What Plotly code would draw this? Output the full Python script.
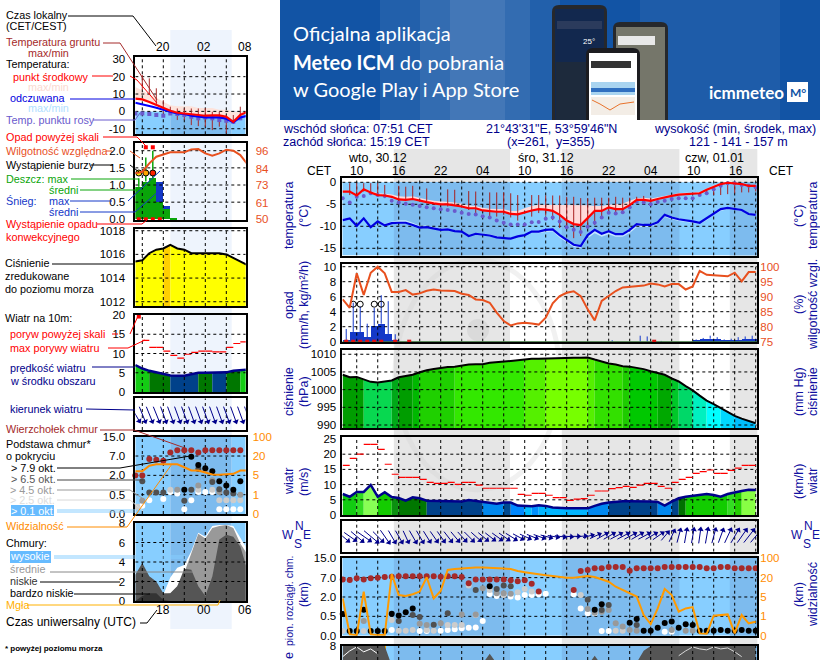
import numpy as np
import plotly.graph_objects as go

W, H = 820, 660
PX_PER_HOUR = 7

# main meteogram, hourly from 08 CET on 30.12
hours = list(range(8, 68))
temp_mid = [-2.1, -2.1, -3.0, -1.6, -2.3, -2.9, -3.0, -3.3, -3.9, -4.0,
            -3.8, -4.2, -4.5, -4.8, -5.0, -5.0, -5.2, -5.5, -5.9, -5.9,
            -6.4, -6.6, -6.7, -6.7, -7.2, -7.3, -6.8, -6.4, -6.1, -6.2,
            -6.5, -7.4, -8.7, -9.5, -9.7, -8.2, -6.5, -6.5, -5.7, -6.1,
            -6.1, -5.2, -4.0, -4.0, -4.2, -3.8, -3.4, -3.1, -2.8, -2.7,
            -2.7, -2.5, -1.7, -1.0, -0.4, -0.1, -0.2, -0.4, -0.8, -0.8]
temp_max = [-1.9, -1.9, -2.7, -1.4, -2.0, -2.5, -2.6, -2.8, -3.2, -3.3,
            -3.2, -3.6, -3.9, -4.2, -4.3, -4.4, -4.6, -4.9, -5.3, -5.4,
            -5.8, -6.0, -6.1, -6.1, -6.5, -6.5, -5.9, -5.4, -5.1, -5.1,
            -5.1, -5.1, -5.1, -5.1, -5.1, -5.2, -5.4, -5.4, -5.1, -5.0,
            -4.9, -4.2, -3.6, -3.5, -3.7, -3.4, -3.1, -2.8, -2.5, -2.4,
            -2.4, -2.2, -1.4, -0.7, -0.2, 0.1, 0.0, -0.2, -0.6, -0.6]
feels = [-8.6, -8.2, -9.9, -8.2, -10.2, -8.9, -9.8, -9.3, -9.2, -9.2,
         -9.7, -10.3, -10.2, -10.5, -10.8, -10.7, -11.1, -11.2, -12.2, -11.7,
         -11.9, -12.1, -12.5, -12.7, -12.8, -12.3, -12.0, -11.2, -11.2, -10.8,
         -10.7, -12.0, -13.1, -14.2, -14.5, -12.0, -10.8, -11.7, -11.1, -11.8,
         -11.8, -10.8, -9.5, -9.7, -9.7, -9.1, -7.4, -8.0, -8.4, -8.6,
         -8.9, -9.2, -8.2, -7.0, -6.1, -5.8, -6.0, -6.3, -7.2, -7.4]
feels_max = [-8.3, -8.0, -9.6, -8.0, -9.9, -8.6, -9.5, -8.9, -8.6, -8.6,
             -9.2, -9.9, -9.8, -10.1, -10.5, -10.4, -10.9, -11.0, -11.9, -11.5,
             -11.7, -11.8, -12.2, -12.5, -12.6, -12.1, -11.8, -11.0, -11.0, -10.6,
             -10.5, -11.8, -12.9, -14.0, -14.3, -11.8, -10.6, -11.5, -10.9, -11.6,
             -11.6, -10.6, -9.3, -9.5, -9.5, -8.9, -7.2, -7.8, -8.2, -8.4,
             -8.7, -9.0, -8.0, -6.8, -5.9, -5.6, -5.8, -6.1, -7.0, -7.2]
feels_min = [-8.7, -8.3, -10.0, -8.3, -10.3, -9.0, -9.9, -9.4, -9.3, -9.3,
             -9.8, -10.4, -10.3, -10.6, -10.9, -10.8, -11.2, -11.3, -12.3, -11.8,
             -12.0, -12.2, -12.6, -12.8, -12.9, -12.4, -12.1, -11.4, -11.6, -11.3,
             -11.2, -12.6, -13.6, -14.7, -15.0, -12.7, -11.6, -12.4, -11.8, -12.4,
             -12.4, -11.5, -10.2, -10.2, -10.1, -9.5, -7.9, -8.4, -8.8, -9.0,
             -9.3, -9.5, -8.6, -7.4, -6.5, -6.1, -6.3, -6.6, -7.4, -7.6]
dew = [-3.6, -4.6, -3.3, -3.1, -2.5, -2.9, -3.1, -4.2, -4.6, -4.9,
       -5.1, -5.4, -5.7, -5.9, -6.1, -6.3, -6.5, -6.9, -7.2, -7.3,
       -7.7, -8.0, -8.7, -9.2, -9.6, -9.6, -9.6, -9.1, -9.0, -8.3,
       -8.0, -8.9, -10.2, -10.8, -11.3, -10.1, -9.2, -8.0, -6.9, -7.1,
       -6.8, -5.7, -4.4, -4.6, -5.0, -4.5, -4.2, -3.8, -3.6, -3.6,
       -3.6, -2.9, -2.5, -1.6, -0.8, -0.2, -0.2, -0.6, -0.8, -1.1]
ground_max = [None, -0.2, -0.2, -0.2, -0.2, -0.2, -0.6, None, -0.8, -1.0,
              -0.8, None, -1.4, None, None, -1.6, -1.7, None, -2.0, -2.1,
              None, -2.3, -2.3, -2.3, -2.5, -2.9, None, -2.9, -2.9, -3.0,
              -3.0, -3.0, -3.3, -3.3, -3.6, -3.6, -3.5, -3.5, -3.5, -3.3,
              -3.5, -3.5, -3.3, -3.1, -3.5, None, None, None, None, None,
              None, None, -1.7, -1.4, -0.5, 0.2, 0.0, -0.5, -0.6, -0.6]
ground_min = [None, -2.9, -3.6, -2.1, -2.9, -2.5, -3.6, None, -4.0, -4.0,
              -4.0, None, -4.8, None, None, -5.5, -5.4, None, -6.3, -7.0,
              None, -7.8, -7.8, -7.4, -8.0, -8.7, None, -7.8, -7.0, -7.6,
              -8.6, -10.4, -10.6, -12.7, -12.2, -10.6, -9.7, -8.3, -7.1, -6.8,
              -6.7, -6.1, -4.4, -4.8, -5.1, None, None, None, None, None,
              None, None, -2.9, -2.9, -2.9, -2.7, -2.5, -2.3, -2.3, -2.1]
humidity = [89.1, 86.3, 97.8, 90.6, 98.0, 100.0, 97.8, 91.6, 91.6, 92.2,
            90.7, 91.1, 92.0, 92.4, 92.1, 91.9, 91.9, 91.0, 90.6, 89.1,
            88.9, 88.0, 84.7, 81.9, 80.4, 81.1, 81.3, 81.1, 80.7, 83.0,
            87.8, 90.2, 91.3, 91.8, 90.2, 85.8, 82.1, 88.6, 90.4, 91.9,
            93.1, 93.3, 93.4, 93.7, 94.4, 94.1, 93.4, 94.2, 94.2, 92.4,
            93.4, 98.6, 97.3, 97.1, 96.9, 96.8, 98.0, 95.1, 98.2, 98.2]
snow_hours = [8.5, 9.5, 10.5, 11.5, 12.5, 13.5, 14.5, 15.5, 58.5, 59.5, 60.5, 61.5, 62.5, 63.5, 64.5, 65.5, 66.5, 67.5]
snow_mean = [0.1, 1.3, 1.3, 0.6, 2.1, 2.4, 1.0, 0.1, 0.2, 0.3, 0.4, 0.3, 0.1, 0.2, 0.2, 0.3, 0.3, 0.3]
snow_peak = [1.7, 5.2, 4.7, 2.4, 4.5, 6.2, 5.4, 1.0, 0.3, 0.5, 0.8, 0.6, 0.3, 0.4, 0.6, 0.7, 0.8, 0.8]
trace_hours = [46.5, 50.5, 51.5, 53.5]
trace_peak = [0.2, 0.8, 0.7, 0.1]
convective_hours = [8.5, 9.5, 10.5, 11.5, 12.5, 13.5, 15.5, 17.5, 52.5]
storm_hours = [9.5, 10.5, 12.5, 13.5]
storm_level = [5.0, 5.0, 5.0, 5.0]
pressure = [1004.2, 1003.5, 1003.6, 1002.9, 1002.2, 1002.0, 1002.3, 1002.6, 1003.5, 1003.9,
            1004.2, 1004.9, 1005.5, 1005.8, 1006.2, 1006.4, 1006.5, 1006.9, 1007.1, 1007.2,
            1007.2, 1007.6, 1007.7, 1007.8, 1008.1, 1008.3, 1008.6, 1008.7, 1008.7, 1008.8,
            1008.9, 1008.9, 1009.0, 1009.0, 1009.0, 1009.1, 1008.5, 1007.9, 1007.4, 1007.1,
            1006.6, 1006.5, 1006.2, 1005.8, 1005.2, 1004.8, 1004.2, 1003.2, 1002.3, 1001.0,
            999.8, 998.3, 996.9, 995.9, 994.8, 993.7, 992.6, 991.8, 991.1, 990.5]
wind = [6.9, 6.0, 7.6, 7.6, 9.9, 6.0, 7.5, 5.9, 5.6, 4.7,
        5.8, 5.5, 4.7, 4.6, 4.5, 4.5, 4.4, 4.4, 4.9, 4.6,
        4.1, 3.8, 3.7, 4.1, 4.1, 3.1, 3.1, 2.9, 3.2, 3.0,
        2.5, 2.3, 2.2, 2.2, 2.2, 2.2, 3.0, 3.7, 4.1, 4.4,
        4.5, 4.5, 4.5, 4.6, 4.4, 4.3, 3.1, 4.4, 5.5, 6.0,
        6.3, 6.7, 6.9, 6.6, 6.0, 6.9, 7.5, 7.9, 8.3, 8.2]
gust = [16.3, 18.6, 20.0, 23.2, 23.2, 21.6, 16.7, 13.4, 12.4, 12.4,
        12.4, 11.7, 10.7, 10.4, 10.4, 10.7, 10.1, 10.7, 10.7, 9.8,
        8.8, 8.8, 8.8, 8.8, 8.8, 6.8, 6.5, 7.1, 7.1, 6.5,
        5.7, 5.7, 4.8, 5.2, 5.4, 6.5, 7.9, 7.9, 8.7, 9.0,
        9.4, 9.1, 9.8, 10.4, 10.4, 9.4, 8.8, 10.7, 11.7, 12.4,
        13.7, 14.3, 14.8, 13.7, 13.7, 14.7, 15.4, 16.3, 16.3]
wind_bearing = [130, 125, 130, 125, 130, 135, 145, 150, 150, 155,
                150, 150, 148, 145, 145, 142, 140, 138, 135, 132,
                130, 128, 126, 125, 122, 118, 115, 112, 110, 105,
                100, 98, 95, 90, 85, 75, 65, 60, 60, 62,
                62, 62, 60, 62, 60, 55, 40, 25, 15, 10,
                10, 8, 10, 15, 20, 25, 30, 35, 38, 40]

# cloud panel values are given in tick position of its uneven scale (0, 0.5, 2, 7, 15 km)
top_hours = list(range(8, 37)) + list(range(41, 68))
top_level = [2.91, 2.88, 2.97, 2.91, 2.97, 3.0, 3.03, 3.05, 3.07, 3.07, 3.07, 3.07, 3.07, 3.07, 3.05, 3.07,
             3.07, 3.03, 2.71, 2.91, 2.91, 2.91, 2.91, 2.91, 2.86, 2.81, 2.86, 2.69, 2.28,
             2.36, 3.34, 3.4, 3.48, 3.48, 3.55, 3.55, 3.55, 3.36, 3.48, 3.48, 3.48, 3.48, 3.55, 3.55, 3.55,
             3.55, 3.55, 3.55, 3.48, 3.48, 3.55, 3.55, 3.48, 3.48, 3.48, 3.48]
black_hours = [8, 9, 10, 11, 12, 13, 14, 15, 16, 17, 18, 29, 44, 45, 49, 50, 51, 52, 53, 54, 55, 56, 57, 58, 59, 60, 61, 62, 63, 64, 65, 66, 67]
black_level = [1.12, 0.24, 0.24, 1.34, 0.24, 0.24, 0.24, 1.14, 1.05, 1.21, 1.41, 2.55, 1.34, 1.62, 0.67, 0.86, 0.26, 0.26, 0.41, 0.66, 0.74, 0.41, 0.59, 0.55, 0.26, 0.26, 0.26, 0.29, 0.26, 0.26, 0.29, 0.26, 0.26]
dark_hours = [16, 18, 19, 21, 23, 27, 30, 31, 32, 43, 45, 46, 50]
dark_level = [0.76, 1.07, 0.97, 0.57, 1.16, 2.36, 2.41, 2.59, 2.55, 1.86, 1.33, 1.59, 0.55]
gray_hours = [11, 19, 20, 22, 25, 27, 28, 30, 31, 32, 43, 44, 45, 46, 47, 48, 49, 50, 55, 57, 58]
gray_level = [0.76, 0.62, 0.55, 0.64, 1.1, 1.1, 2.45, 2.19, 2.19, 2.17, 1.38, 1.19, 1.24, 1.33, 0.64, 0.47, 0.29, 0.26, 0.29, 0.26, 0.26]
light_hours = [8, 11, 14, 15, 16, 17, 18, 20, 21, 23, 24, 25, 26, 27, 29, 31, 33, 34, 35, 42, 47, 48]
light_level = [0.24, 0.24, 0.24, 0.81, 0.26, 0.26, 0.29, 0.29, 0.26, 0.55, 0.55, 0.55, 2.59, 1.07, 2.36, 2.1, 2.24, 2.41, 2.29, 2.1, 0.26, 0.26]
white_hours = [15, 19, 20, 22, 23, 24, 25, 26, 27, 28, 29, 30, 31, 32, 33, 34, 35, 36, 37, 41, 42, 43, 44, 45, 46, 54, 55]
white_level = [0.29, 0.24, 0.24, 0.26, 0.29, 0.33, 0.38, 0.41, 0.43, 0.76, 2.16, 2.05, 2.14, 2.02, 1.97, 2.1, 2.1, 2.14, 2.17, 2.14, 1.41, 1.16, 1.16, 0.24, 0.24, 0.21, 0.21]
visibility = [1.93, 0.07, 0.03, 2.28, 0.07, 0.03, 0.03, 3.19, 2.1, 2.05,
              2.14, 2.28, 3.02, 1.93, 2.31, 3.4, 3.45, 3.48, 3.52, 3.53,
              3.53, 3.52, 3.48, 3.47, 3.45, 3.34, 3.28, 3.22, 3.17, 3.12,
              3.09, 3.05, 3.0, 3.0, 3.03, 3.09, 3.03, 2.91, 2.79, 2.53,
              2.36, 2.19, 2.02, 1.07, 0.6, 1.41, 2.41, 2.1, 1.24, 1.41,
              1.48, 0.12, 0.1, 1.03, 1.07, 1.1, 0.12, 1.07, 0.64, 0.72]
cover_low = [8, 8, 8, 8, 8, 8, 8, 6, 2, 1, 1, 1, 1, 1, 1, 1, 1, 1, 1, 1,
             6.2, 7.2, 6.2, 2, 2, 2, 2, 2, 2, 2, 2, 2, 2, 2, 2, 6, 7, 6, 3, 3,
             3, 3, 6.3, 7.5, 8, 8, 8, 8, 8, 8, 8, 8, 8, 8, 8, 8, 8, 8, 8, 8]
cover_high_hours = [8, 9, 10, 11, 12, 13, 56, 57, 58, 59, 60, 61, 62, 63, 64, 65]
cover_high = [6.9, 7.5, 7.9, 7.4, 7.7, 7.2, 7.0, 7.5, 7.9, 7.7, 7.6, 7.9, 7.7, 7.8, 7.4, 6.9]
fog_hours = [9, 10, 12, 13, 14, 60]
fog_level = [8, 8, 8, 8, 8, 7.2]

# short meteogram, hourly from 16 CET on 30.12
short_hours = list(range(16, 33))
s_temp = [7.3, 6.9, 5.4, 3.7, 1.7, 0.4, -0.8, -1.2, -1.5, -2.1, -2.5, -2.3, -2.3, -3.1, -6.0, -2.1, -0.2]
s_temp_max = [14, 12, 10, 8, 5.5, 3.5, 3, 3, 3, 2, 2, 2, 1, 1, 0, 0, 0]
s_feels = [5.0, 4.2, 3.1, 2.1, 0.8, -0.2, -1.2, -1.5, -2.5, -3.1, -3.5, -3.5, -3.5, -4.2, -6.3, -3.5, -2.5]
s_dew = [-1.2, -1.2, -1.5, -2.1, -2.5, -1.2, -1.5, -2.1, -3.1, -4.0, -3.5, -4.0, -5.0, -5.4, -6.0, -4.0, -3.5]
s_ground_max = [None, 21, 19, 13.3, 6.5, 2.7, 1.7, 1.7, 1.7, 1.7, 1.7, -0.2, -0.2, -2.1, -2.1, 2.7, 2.7]
s_ground_min = [None, 12.3, 9.4, 3.7, -1.2, -2.1, -5.0, -5.0, -7.9, -8.5, -8.8, -10.8, -8.8, -12.7, -6.0, -5.0, -2.0]
s_humidity = [80.8, 81.9, 87.5, 92.0, 93.5, 94.9, 94.9, 94.9, 96.9, 97.1, 94.2, 92.7, 94.2, 96.7, 96.0, 93.1, 87.0]
s_rain_hours = [16.5, 17.5, 18.5, 19.5, 20.5, 21.5]
s_rain = [0.95, 1.1, 1.2, 0.5, 0.3, 0.05]
s_snow = [0, 0, 0, 0.6, 0.1, 0]
s_rain_peak = [1.2, 1.8, 2.0]
s_peak_hours = [16.5, 17.5, 18.5]
s_over_hours = [17.5, 18.5]
s_over_level = [2.1, 2.1]
s_convective_hours = [16.5, 17.5, 18.5, 19.5]
s_storm_level = [1.35, 1.35, 1.35]
s_pressure = [1015.4, 1015.5, 1016.1, 1016.4, 1016.5, 1016.8, 1016.5, 1016.4, 1016.1, 1016.1, 1016.1, 1016.1, 1016.1, 1016.0, 1015.7, 1015.4, 1015.1]
s_wind = [7.0, 6.1, 5.5, 5.1, 4.6, 4.3, 4.2, 4.2, 4.6, 5.0, 5.0, 5.0, 5.0, 5.1, 5.5, 5.7, 5.8]
s_gust_hours = list(range(17, 32))
s_gust = [13.4, 11.6, 11.6, 10.6, 9.5, 8.8, 9.8, 10.3, 10.6, 10.6, 10.4, 10.4, 11.6, 12.6, 13.0]
s_bearing = [150, 158, 158, 158, 160, 160, 160, 160, 160, 160, 160, 160, 160, 160, 160, 160, 160]
s_top_hours = list(range(16, 33))
s_top_level = [1.99, 1.99, 2.84, 2.81, 2.76, 3.18, 3.3, 3.3, 3.3, 3.18, 3.3, 3.3, 3.3, 3.3, 3.3, 3.3, 3.3]
s_black_hours = [23, 24, 25, 26, 27, 28, 29, 30, 31]
s_black_level = [1.26, 2.96, 2.54, 2.37, 2.21, 1.69, 1.48, 1.26, 1.69]
s_dark_hours = [17, 18, 19, 20, 23, 24, 25, 27, 28, 29, 30, 32]
s_dark_level = [1.69, 1.11, 1.11, 1.11, 0.68, 1.26, 2.33, 1.65, 1.28, 1.11, 1.06, 1.65]
s_gray_hours = [17, 22, 25, 26, 27, 28, 31]
s_gray_level = [0.68, 1.26, 1.48, 2.3, 1.74, 1.14, 1.0]
s_light_hours = [16.3, 21, 25, 27, 28, 29, 30, 31]
s_light_level = [0.37, 1.26, 1.26, 1.26, 0.71, 0.71, 0.71, 0.71]
s_white_hours = [17, 18, 20, 21, 22, 23, 24, 25, 26, 27, 28, 29, 30, 31]
s_white_level = [0.43, 0.71, 0.77, 1.14, 1.06, 0.24, 0.71, 1.14, 1.14, 1.14, 0.24, 0.24, 0.24, 0.24]
s_visibility = [2.21, 2.21, 2.5, 2.57, 2.57, 2.57, 2.57, 2.42, 2.25, 2.25, 2.16, 2.04, 2.03, 2.04, 2.08, 2.25, 2.25]
s_high = [0, 0, 0, 0, 0.65, 2.4, 3.4, 3.7, 5.1, 7.0, 6.6, 7.7, 7.8, 7.8, 7.7, 6.5, 5.3]
s_mid = [0, 0, 0, 0, 0.6, 0.8, 1.5, 2.9, 4.9, 6.9, 6.4, 7.5, 7.7, 7.8, 7.5, 5.9, 4.8]
s_low = [2.7, 3.9, 2.55, 2.0, 0.8, 0.8, 1.5, 3.3, 3.2, 1.5, 0.5, 2.5, 6.3, 6.8, 6.6, 5.6, 3.2]
s_vlow = [0, 0.5, 0.8, 0.8, 0.1, 0, 0, 0, 0, 0, 0, 0, 0, 0, 0, 0, 0]
s_fog_hours = [27.9, 28.9, 29.9, 30.9]
s_fog = [1.1, 1.1, 1.1, 1.1]

# colour of the filled area per stretch: (colour, number of hours)
pressure_runs = [("#009D00", 3), ("#08D850", 4), ("#00A818", 1), ("#009D00", 2), ("#00B800", 1), ("#1FD000", 5), ("#33E800", 10),
                 ("#55F000", 3), ("#77FF00", 6), ("#55F000", 1), ("#33E000", 4), ("#1ECC00", 1), ("#00C800", 4), ("#00A800", 2),
                 ("#00C828", 1), ("#00D868", 2), ("#00F0C0", 2), ("#00FFFF", 2), ("#00D8FF", 2), ("#00BFFF", 3)]
wind_runs = [("#12CC12", 2), ("#33DD22", 1), ("#88FF55", 2), ("#14CC00", 2), ("#0B9010", 1), ("#007700", 4), ("#00418A", 8),
             ("#0088EE", 3), ("#004A90", 1), ("#0088FF", 2), ("#00BFFF", 1), ("#0090FF", 1), ("#00B5FF", 7), ("#0088F0", 3),
             ("#00428A", 7), ("#0088F0", 2), ("#00438A", 1), ("#007000", 1), ("#12CC00", 6), ("#33DD22", 1), ("#22D000", 1), ("#88FF44", 2)]
s_pressure_runs = [("#FFFF00", 4), ("#FFD000", 1), ("#FFFF00", 11)]
s_wind_runs = [("#14CC14", 2), ("#007700", 3), ("#00418A", 4), ("#007700", 2), ("#00418A", 2), ("#007700", 2), ("#14CC14", 1)]

NAVY = "#00008B"
LABEL = "#1010A0"
RED = "#FF0000"
DARKRED = "#A52A2A"
ORANGE = "#FF8C00"
RH = "#E8501E"
DEW = "#6A5ACD"
SKY = "#87CEFF"
SKY_NIGHT = "#7DBBEE"

fig = go.Figure()
shapes = []
notes = []
axes = {}
next_axis = 2


def fx(px):
    return px / W


def fy(py):
    return 1 - py / H


def panel(left, right, top, bottom, xr, yr, ticks, labels, rticks=None, rlabels=None, rrange=None, rcolor="black", lgap=2, rgap=2):
    global next_axis
    n = next_axis
    next_axis += 2
    axes[f"xaxis{n}"] = dict(domain=[fx(left), fx(right)], range=xr, anchor=f"y{n}", showticklabels=False, ticks="",
                             showgrid=False, zeroline=False, showline=True, mirror=True, linecolor="black", linewidth=1.5)
    axes[f"yaxis{n}"] = dict(domain=[fy(bottom), fy(top)], range=yr, anchor=f"x{n}", tickmode="array", tickvals=ticks, ticktext=labels,
                             tickfont=dict(size=11.5), ticks="", showgrid=False, zeroline=False, showline=True, mirror=True,
                             linecolor="black", linewidth=1.5, ticklabelstandoff=lgap)
    if rticks is not None:
        axes[f"yaxis{n + 1}"] = dict(overlaying=f"y{n}", anchor=f"x{n}", side="right", range=rrange, tickmode="array", tickvals=rticks,
                                     ticktext=rlabels, tickfont=dict(size=11.5, color=rcolor), ticks="", showgrid=False, zeroline=False,
                                     showline=False, ticklabelstandoff=rgap)
    return f"x{n}", f"y{n}", f"y{n + 1}"


def grid(xa, ya, xr, yr, xs, ys):
    gx, gy = [], []
    for t in xs:
        gx += [t, t, None]
        gy += [yr[0], yr[1], None]
    for v in ys:
        gx += [xr[0], xr[1], None]
        gy += [v, v, None]
    fig.add_trace(go.Scatter(x=gx, y=gy, xaxis=xa, yaxis=ya, mode="lines", hoverinfo="skip",
                             line=dict(color="black", width=1, dash="3px,3px")))


def line(xa, ya, x, y, color, width=2.2):
    fig.add_trace(go.Scatter(x=x, y=y, xaxis=xa, yaxis=ya, mode="lines", line=dict(color=color, width=width)))


def dots(xa, ya, x, y, color, size=6, symbol="circle"):
    fig.add_trace(go.Scatter(x=x, y=y, xaxis=xa, yaxis=ya, mode="markers", cliponaxis=False,
                             marker=dict(color=color, size=size, symbol=symbol, line=dict(width=0))))


def band(xa, ya, upper, lower, x, color):
    fig.add_trace(go.Scatter(x=x, y=lower, xaxis=xa, yaxis=ya, mode="lines", line=dict(width=0), hoverinfo="skip"))
    fig.add_trace(go.Scatter(x=x, y=upper, xaxis=xa, yaxis=ya, mode="lines", line=dict(width=0), fill="tonexty",
                             fillcolor=color, hoverinfo="skip"))


def whiskers(xa, ya, x, lo, hi, color, width=1):
    wx, wy = [], []
    for t, a, b in zip(x, lo, hi):
        if a is None or b is None:
            continue
        wx += [t, t, None]
        wy += [a, b, None]
    fig.add_trace(go.Scatter(x=wx, y=wy, xaxis=xa, yaxis=ya, mode="lines", line=dict(color=color, width=width)))


def steps(xa, ya, x, y, color):
    sx, sy = [], []
    for t, v in zip(x, y):
        sx += [t, t + 1, None]
        sy += [v, v, None]
    fig.add_trace(go.Scatter(x=sx, y=sy, xaxis=xa, yaxis=ya, mode="lines", line=dict(color=color, width=1.2)))


def colored_area(xa, ya, x, y, runs):
    i = 0
    for color, count in runs:
        j = i + count
        fig.add_trace(go.Scatter(x=x[i:j + 1], y=y[i:j + 1], xaxis=xa, yaxis=ya, mode="lines", line=dict(width=0),
                                 fill="tozeroy", fillcolor=color, hoverinfo="skip"))
        i = j


def arrows(xa, ya, x, bearing, length, half_height):
    rad = np.radians(bearing)
    x = np.array(x, dtype=float)
    dx = np.sin(rad) * length / 2 / PX_PER_HOUR
    dy = np.cos(rad) * length / 2 / half_height
    lx, ly = [], []
    for t, a, b in zip(x, dx, dy):
        lx += [t - a, t + a, None]
        ly += [-b, b, None]
    fig.add_trace(go.Scatter(x=lx, y=ly, xaxis=xa, yaxis=ya, mode="lines", cliponaxis=False, line=dict(color=NAVY, width=1)))
    fig.add_trace(go.Scatter(x=x + dx, y=dy, xaxis=xa, yaxis=ya, mode="markers", cliponaxis=False,
                             marker=dict(symbol="triangle-up", angle=bearing, size=5.5, color=NAVY, line=dict(width=0))))


def rect(xa, ya, x0, x1, y0, y1, color, layer="below"):
    shapes.append(dict(type="rect", xref=xa, yref=ya, x0=x0, x1=x1, y0=y0, y1=y1, fillcolor=color, line=dict(width=0), layer=layer))


def screen(x0, y0, x1, y1, color, layer="above", line_color=None):
    shapes.append(dict(type="rect", xref="paper", yref="paper", x0=fx(x0), x1=fx(x1), y0=fy(y1), y1=fy(y0), fillcolor=color,
                       line=dict(width=1 if line_color else 0, color=line_color), layer=layer))


def rounded(x0, y0, x1, y1, r, color):
    path = (f"M {fx(x0 + r)},{fy(y0)} L {fx(x1 - r)},{fy(y0)} Q {fx(x1)},{fy(y0)} {fx(x1)},{fy(y0 + r)} "
            f"L {fx(x1)},{fy(y1)} L {fx(x0)},{fy(y1)} L {fx(x0)},{fy(y0 + r)} Q {fx(x0)},{fy(y0)} {fx(x0 + r)},{fy(y0)} Z")
    shapes.append(dict(type="path", xref="paper", yref="paper", path=path, fillcolor=color, line=dict(width=0), layer="above"))


def connector(points, color, width=1):
    path = "M " + " L ".join(f"{fx(a)},{fy(b)}" for a, b in points)
    shapes.append(dict(type="path", xref="paper", yref="paper", path=path, line=dict(color=color, width=width), layer="above"))


def text(x, y, s, color="black", size=10.8, anchor="left", angle=0, font="Liberation Sans"):
    if anchor == "left":
        x -= 1
    notes.append(dict(xref="paper", yref="paper", x=fx(x), y=fy(y), text=s, showarrow=False, xanchor=anchor, yanchor="middle",
                      textangle=angle, borderpad=0, font=dict(size=size, color=color, family=font)))


# ---- backgrounds: night on both meteograms, banner on top right
main_range = [7.94, 67.23]
short_range = [16.0, 31.77]
for a, b in [(15.3, 31.9), (39.3, 56.1), (63.3, 67.23)]:
    screen(342.3 + (a - 7.94) * PX_PER_HOUR, 149, 342.3 + (b - 7.94) * PX_PER_HOUR, 660, "#E6E6E6", layer="below")
screen(170.3, 30, 231.7, 629, "#EEF4FD", layer="below")

# faint logo behind the charts
shapes.append(dict(type="circle", xref="paper", yref="paper", x0=fx(395), x1=fx(560), y0=fy(490), y1=fy(260), fillcolor="rgba(0,0,0,0)",
                   line=dict(color="rgba(210,210,210,0.3)", width=5), layer="below"))
shapes.append(dict(type="circle", xref="paper", yref="paper", x0=fx(467), x1=fx(489), y0=fy(341), y1=fy(319), fillcolor="rgba(205,205,205,0.45)",
                   line=dict(width=0), layer="below"))

screen(280, 0, 820, 120, "#1254A5", layer="below")
for x0, x1, alpha in [(380, 560, 0.07), (420, 530, 0.08), (450, 505, 0.08), (640, 780, 0.05)]:
    screen(x0, 0, x1, 120, f"rgba(255,255,255,{alpha})", layer="below")
rounded(552, 5, 607, 120, 7, "#26282C")
screen(555, 9, 604, 120, "#12284E")
screen(557, 21, 602, 29, "#2B3B5C")
screen(556, 62, 603, 120, "#1D2A3C")
rounded(613, 22, 668, 120, 7, "#26282C")
screen(616, 27, 665, 120, "#75766A")
screen(618, 36, 655, 45, "#E8E8E8")
rounded(586, 48, 640, 120, 7, "#1C1C20")
screen(589, 53, 637, 120, "#FFFFFF")
screen(591, 61, 631, 68, "#333333")
screen(591, 82, 635, 95, "#A9D4F0")
screen(591, 88, 635, 92, "#2F6FC0")
screen(591, 97, 635, 115, "#F3EDE6")
connector([(592, 100), (600, 104), (610, 110), (620, 104), (634, 102)], "#E8732C", 1)
screen(787, 82, 808, 102, "#FFFFFF")

# ---- short meteogram, left column
s_vert = [17, 20, 23, 26, 29]
LG, RG = 6, 9

xa, ya, yb = panel(135.3, 245.7, 57.3, 134.3, short_range, [-13.2, 31.15], [30, 20, 10, 0, -10], ["30", "20", "10", "0", "-10"],
                   [30, 20, 10, 0, -10], ["30", "20", "10", "0", "-10"], [-13.2, 31.15], lgap=LG, rgap=RG)
rect(xa, ya, 16, 21, -13.2, 0, SKY)
rect(xa, ya, 21, 29.77, -13.2, 0, SKY_NIGHT)
rect(xa, ya, 29.77, 31.77, -13.2, 0, SKY)
band(xa, ya, s_temp_max, s_temp, short_hours, "#FDE3DC")
grid(xa, ya, short_range, [-13.2, 31.15], s_vert, [20, 10, 0, -10])
whiskers(xa, ya, short_hours, s_ground_min, s_ground_max, "#A52A2A")
dots(xa, ya, short_hours, s_dew, DEW, 4, "square")
line(xa, ya, short_hours, s_feels, "#0000FF")
line(xa, ya, short_hours, s_temp, RED)

xa, ya, yb = panel(135.3, 245.7, 143.3, 220, short_range, [-0.02, 2.216], [2, 1.5, 1, 0.5, 0], ["2.0", "1.5", "1.0", "0.5", "0.0"],
                   [96, 84, 73, 61, 50], ["96", "84", "73", "61", "50"], [49.54, 100.97], RH, lgap=LG, rgap=RG)
fig.add_trace(go.Bar(x=s_rain_hours, y=s_rain, xaxis=xa, yaxis=ya, width=1, marker=dict(color="#0AA50A", line=dict(width=0))))
fig.add_trace(go.Bar(x=s_rain_hours, y=s_snow, xaxis=xa, yaxis=ya, width=1, marker=dict(color="#1438C8", line=dict(width=0))))
grid(xa, ya, short_range, [-0.02, 2.216], s_vert, [2, 1.5, 1, 0.5])
whiskers(xa, ya, s_peak_hours, s_rain[:3], s_rain_peak, "#0AA50A", 1.5)
dots(xa, ya, s_over_hours, s_over_level, RED, 4, "square")
dots(xa, ya, s_convective_hours, [0, 0, 0, 0], RED, 4, "square")
for t, level, color in zip(s_peak_hours, s_storm_level, ["#FFE000", "#FFA500", "#FF2000"]):
    fig.add_trace(go.Scatter(x=[t], y=[level], xaxis=xa, yaxis=ya, mode="markers",
                             marker=dict(color=color, size=6, line=dict(color="black", width=1))))
line(xa, yb, short_hours, s_humidity, RH, 2)

xa, ya, yb = panel(135.3, 245.7, 229.3, 306, short_range, [1011.64, 1018.12], [1018, 1016, 1014, 1012], ["1018", "1016", "1014", "1012"],
                   [1018, 1016, 1014, 1012], ["1018", "1016", "1014", "1012"], [1011.64, 1018.12], lgap=LG, rgap=RG)
colored_area(xa, ya, short_hours, s_pressure, s_pressure_runs)
grid(xa, ya, short_range, [1011.64, 1018.12], s_vert, [1018, 1016, 1014, 1012])
line(xa, ya, short_hours, s_pressure, "black", 2)

xa, ya, yb = panel(135.3, 245.7, 315, 392, short_range, [0, 20], [20, 15, 10, 5, 0], ["20", "15", "10", "5", "0"],
                   [72, 54, 36, 18, 0], ["72", "54", "36", "18", "0"], [0, 72], lgap=LG, rgap=RG)
colored_area(xa, ya, short_hours, s_wind, s_wind_runs)
grid(xa, ya, short_range, [0, 20], s_vert, [15, 10, 5])
steps(xa, ya, s_gust_hours, s_gust, RED)
dots(xa, ya, [16.5], [19.6], RED, 4, "square")
line(xa, ya, short_hours, s_wind, NAVY, 2.5)

xa, ya, yb = panel(135.3, 245.7, 398.3, 430, short_range, [-1, 1], [], [])
grid(xa, ya, short_range, [-1, 1], s_vert, [])
arrows(xa, ya, short_hours, s_bearing, 16, 15.85)

xa, ya, yb = panel(135.3, 245.7, 436.7, 514, short_range, [0, 4.0], [4, 3, 2, 1, 0], ["15.0", "7.0", "2.0", "0.5", "0.0"],
                   [4, 3, 2, 1, 0], ["100", "20", "5", "1", "0"], [0, 4.0], ORANGE, lgap=LG, rgap=RG - 3)
rect(xa, ya, 16, 21, 0, 4, SKY)
rect(xa, ya, 21, 29.77, 0, 4, SKY_NIGHT)
rect(xa, ya, 29.77, 31.77, 0, 4, SKY)
grid(xa, ya, short_range, [0, 4], s_vert, [3, 2, 1])
dots(xa, ya, s_white_hours, s_white_level, "white")
dots(xa, ya, s_light_hours, s_light_level, "#CCCCCC")
dots(xa, ya, s_gray_hours, s_gray_level, "#999999")
dots(xa, ya, s_dark_hours, s_dark_level, "#505050")
dots(xa, ya, s_black_hours, s_black_level, "black")
dots(xa, ya, s_top_hours, s_top_level, DARKRED)
line(xa, yb, short_hours, s_visibility, ORANGE, 2)

xa, ya, yb = panel(135.3, 245.7, 523, 601, short_range, [0, 8], [8, 6, 4, 2, 0], ["8", "6", "4", "2", "0"],
                   [1, 0.75, 0.5, 0.25, 0], ["1", "0.75", "0.5", "0.25", "0"], [0, 1], ORANGE, lgap=LG, rgap=RG - 3)
rect(xa, ya, 16, 21, 0, 8, SKY)
rect(xa, ya, 21, 29.77, 0, 8, SKY_NIGHT)
rect(xa, ya, 29.77, 31.77, 0, 8, SKY)
for series, color in [(s_high, "white"), (s_mid, "#999999"), (s_low, "#555555"), (s_vlow, "#333333")]:
    fig.add_trace(go.Scatter(x=short_hours, y=series, xaxis=xa, yaxis=ya, mode="lines", line=dict(width=0), fill="tozeroy",
                             fillcolor=color, hoverinfo="skip"))
fig.add_trace(go.Bar(x=s_fog_hours, y=s_fog, xaxis=xa, yaxis=ya, width=0.45, marker=dict(color="#FFB000", line=dict(width=0))))
grid(xa, ya, short_range, [0, 8], s_vert, [6, 4, 2])

# ---- main meteogram, right column
m_vert = [10 + 3 * i for i in range(20)]

xa, ya, yb = panel(342.3, 757.3, 177.5, 255.5, main_range, [-16.64, 1.09], [0, -5, -10, -15], ["0", "-5", "-10", "-15"],
                   [0, -5, -10, -15], ["0", "-5", "-10", "-15"], [-16.64, 1.09])
rect(xa, ya, main_range[0], main_range[1], -16.64, 0, SKY)
for a, b in [(15.3, 31.9), (39.3, 56.1), (63.3, 67.23)]:
    rect(xa, ya, a, b, -16.64, 0, SKY_NIGHT)
band(xa, ya, temp_max, temp_mid, hours, "#FFD9D9")
band(xa, ya, feels_max, feels_min, hours, "#C4E6FF")
grid(xa, ya, main_range, [-16.64, 1.09], m_vert, [0, -5, -10, -15])
whiskers(xa, ya, hours, ground_min, ground_max, "#A82020")
dots(xa, ya, hours, dew, DEW, 4)
line(xa, ya, hours, feels, "#0000E0")
line(xa, ya, hours, temp_mid, RED)

xa, ya, yb = panel(342.3, 757.3, 264, 341.7, main_range, [0, 10.36], [10, 8, 6, 4, 2, 0], ["10", "8", "6", "4", "2", "0"],
                   [100, 95, 90, 85, 80, 75], ["100", "95", "90", "85", "80", "75"], [75, 100.9], RH)
fig.add_trace(go.Bar(x=snow_hours, y=snow_mean, xaxis=xa, yaxis=ya, width=1, marker=dict(color="#1438C8", line=dict(width=0))))
grid(xa, ya, main_range, [0, 10.36], m_vert, [10, 8, 6, 4, 2])
whiskers(xa, ya, snow_hours, snow_mean, snow_peak, "#1438C8", 1)
whiskers(xa, ya, trace_hours, [0, 0, 0, 0], trace_peak, "#1438C8", 1)
fig.add_trace(go.Scatter(x=main_range, y=[0, 0], xaxis=xa, yaxis=ya, mode="lines", cliponaxis=False, line=dict(color="#2E6B2E", width=1.5)))
dots(xa, ya, convective_hours, [0] * len(convective_hours), "#E01010", 4, "square")
fig.add_trace(go.Scatter(x=storm_hours, y=storm_level, xaxis=xa, yaxis=ya, mode="markers",
                         marker=dict(symbol="circle-open", size=6, color="black", line=dict(color="black", width=1))))
line(xa, yb, hours, humidity, RH, 2)

xa, ya, yb = panel(342.3, 757.3, 350, 428.3, main_range, [989.07, 1011.2], [1010, 1005, 1000, 995, 990], ["1010", "1005", "1000", "995", "990"],
                   [758, 754, 750, 746, 742], ["758", "754", "750", "746", "742"], [741.25, 758.97])
colored_area(xa, ya, hours, pressure, pressure_runs)
grid(xa, ya, main_range, [989.07, 1011.2], m_vert, [1010, 1005, 1000, 995, 990])
line(xa, ya, hours, pressure, "black", 2)

xa, ya, yb = panel(342.3, 757.3, 437.3, 515, main_range, [0, 25.56], [25, 20, 15, 10, 5, 0], ["25", "20", "15", "10", "5", "0"],
                   [90, 72, 54, 36, 18, 0], ["90", "72", "54", "36", "18", "0"], [0, 92])
colored_area(xa, ya, hours, wind, wind_runs)
grid(xa, ya, main_range, [0, 25.56], m_vert, [20, 15, 10, 5])
steps(xa, ya, hours[:-1], gust, RED)
line(xa, ya, hours, wind, NAVY, 2.5)

xa, ya, yb = panel(342.3, 757.3, 521, 551.7, main_range, [-1, 1], [], [])
grid(xa, ya, main_range, [-1, 1], m_vert, [])
arrows(xa, ya, hours, wind_bearing, 7.5 + 1.0 * np.array(wind), 15.35)

xa, ya, yb = panel(342.3, 757.3, 557.7, 635.7, main_range, [0, 4.03], [4, 3, 2, 1, 0], ["15.0", "7.0", "2.0", "0.5", "0.0"],
                   [4, 3, 2, 1, 0], ["100", "20", "5", "1", "0"], [0, 4.03], ORANGE)
rect(xa, ya, main_range[0], main_range[1], 0, 4.03, SKY)
for a, b in [(15.3, 31.9), (39.3, 56.1), (63.3, 67.23)]:
    rect(xa, ya, a, b, 0, 4.03, SKY_NIGHT)
grid(xa, ya, main_range, [0, 4.03], m_vert, [3, 2, 1])
dots(xa, ya, white_hours, white_level, "white")
dots(xa, ya, light_hours, light_level, "#CCCCCC")
dots(xa, ya, gray_hours, gray_level, "#999999")
dots(xa, ya, dark_hours, dark_level, "#505050")
dots(xa, ya, black_hours, black_level, "black")
dots(xa, ya, top_hours, top_level, DARKRED)
line(xa, yb, hours, visibility, "#FF9A00", 2)

xa, ya, yb = panel(342.3, 757.3, 645.7, 660, main_range, [6.56, 8.03], [8], ["8"], [8 / 8], ["1"], [6.56 / 8, 8.03 / 8], ORANGE)
rect(xa, ya, main_range[0], main_range[1], 6.56, 8.03, SKY)
for a, b in [(15.3, 31.9), (39.3, 56.1), (63.3, 67.23)]:
    rect(xa, ya, a, b, 6.56, 8.03, SKY_NIGHT)
fig.add_trace(go.Scatter(x=hours, y=cover_low, xaxis=xa, yaxis=ya, mode="lines", line=dict(width=0), fill="tozeroy",
                         fillcolor="#555555", hoverinfo="skip"))
fig.add_trace(go.Scatter(x=cover_high_hours[:6], y=cover_high[:6], xaxis=xa, yaxis=ya, mode="lines", line=dict(color="white", width=1)))
fig.add_trace(go.Scatter(x=cover_high_hours[6:], y=cover_high[6:], xaxis=xa, yaxis=ya, mode="lines", line=dict(color="#D8D8D8", width=1)))
fig.add_trace(go.Bar(x=fog_hours, y=fog_level, xaxis=xa, yaxis=ya, width=0.5, marker=dict(color="#FFB000", line=dict(width=0))))
grid(xa, ya, main_range, [6.56, 8.03], m_vert, [])

# ---- time labels
for px, s in [(163, "20"), (204, "02"), (245, "08")]:
    text(px, 47, s, size=12, anchor="center")
for px, s in [(163, "18"), (204, "00"), (245, "06")]:
    text(px, 610, s, size=12, anchor="center")
for px, s in [(357, "10"), (398.5, "16"), (440.5, "22"), (482.5, "04"), (525, "10"), (567, "16"), (609, "22"), (651, "04"), (693.5, "10"), (735.5, "16")]:
    text(px, 171, s, size=12, anchor="center")
text(307, 171, "CET", size=12)
text(769, 171, "CET", size=12)
text(348, 157.5, "wto, 30.12", size=12.5)
text(518, 157.5, "śro, 31.12", size=12.5)
text(685, 157.5, "czw, 01.01", size=12.5)

# ---- header
text(283, 129, "wschód słońca: 07:51 CET", NAVY, 12.5)
text(283, 142, "zachód słońca: 15:19 CET", NAVY, 12.5)
text(551, 129, "21°43'31\"E, 53°59'46\"N", NAVY, 12.5, "center")
text(551, 142, "(x=261,  y=355)", NAVY, 12.5, "center")
text(817, 129, "wysokość (min, środek, max)", NAVY, 12.5, "right")
text(738, 142, "121 - 141 - 157 m", NAVY, 12.5, "center")

# ---- banner
text(293, 33, "Oficjalna aplikacja", "white", 20, font="Lato")
text(293, 62, "<b>Meteo ICM</b> do pobrania", "white", 20, font="Lato")
text(293, 89, "w Google Play i App Store", "white", 20, font="Lato")
text(709, 92, "<b>icmmeteo</b>", "white", 17, font="Lato")
text(797.5, 92, "<b>M°</b>", "#1254A5", 12, "center", font="Lato")
text(583, 42, "25°", "white", 8)

# ---- rotated axis titles
for y, a, b, c, d in [(216, "temperatura", "(°C)", "(°C)", "temperatura"), (305, "opad", "(mm/h, kg/m²/h)", "(%)", "wilgotność wzgl."),
                      (392, "ciśnienie", "(hPa)", "(mm Hg)", "ciśnienie"), (482, "wiatr", "(m/s)", "(km/h)", "wiatr")]:
    text(289, y, a, LABEL, 12.5, "center", -90)
    text(304, y, b, LABEL, 12.5, "center", -90)
    text(799, y, c, LABEL, 12.5, "center", -90)
    text(813, y, d, LABEL, 12.5, "center", -90)
text(289, 601, "pion. rozciągł. chm.", LABEL, 10.5, "center", -90)
text(304, 595, "(km)", LABEL, 12.5, "center", -90)
text(799, 595, "(km)", LABEL, 12.5, "center", -90)
text(813, 595, "widzialność", LABEL, 12.5, "center", -90)
text(289, 656, "e", LABEL, 12.5, "center", -90)
for x0 in (298, 807):
    text(x0 + 1, 526, "N", LABEL, 12, "center")
    text(x0 - 10, 535, "W", LABEL, 12, "center")
    text(x0 + 9, 535, "E", LABEL, 12, "center")
    text(x0, 544, "S", LABEL, 12, "center")

# ---- legend column
screen(11, 505, 54, 516, "#66BBFF")
screen(10, 551, 51, 563, "#66BBFF")
legend_notes = [
    (6, 14.5, "Czas lokalny", "black"), (6, 26, "(CET/CEST)", "black"),
    (6, 42, "Temperatura gruntu", DARKRED), (28, 53, "max/min", DARKRED),
    (6, 64, "Temperatura:", "black"), (13, 76.5, "punkt środkowy", RED), (28, 87, "max/min", "#FBD9D0"),
    (10, 98.5, "odczuwana", "#0000E0"), (28, 108, "max/min", "#B0E0FF"), (6, 120, "Temp. punktu rosy", DEW),
    (6, 137, "Opad powyżej skali", RED), (6, 151, "Wilgotność względna", RH), (6, 165, "Wystąpienie burzy", "black"),
    (6, 179, "Deszcz: max", "#0AA50A"), (49, 190, "średni", "#0AA50A"), (6, 201, "Śnieg:", "#1438C8"),
    (49, 201, "max", "#1438C8"), (49, 212, "średni", "#1438C8"),
    (6, 224, "Wystąpienie opadu", RED), (6, 237, "konwekcyjnego", RED),
    (5, 263, "Ciśnienie", "black"), (5, 276, "zredukowane", "black"), (5, 289, "do poziomu morza", "black"),
    (5, 318, "Wiatr na 10m:", "black"), (10, 334, "poryw powyżej skali", RED), (10, 348, "max porywy wiatru", RED),
    (10, 368, "prędkość wiatru", NAVY), (10, 381, "w środku obszaru", NAVY), (10, 409, "kierunek wiatru", NAVY),
    (6, 429, "Wierzchołek chmur", DARKRED), (6, 444, "Podstawa chmur*", "black"), (6, 456, "o pokryciu", "black"),
    (11, 468, "> 7.9 okt.", "black"), (11, 479, "> 6.5 okt.", "#555555"), (10, 490, "> 4.5 okt.", "#999999"),
    (10, 500, "> 2.5 okt.", "#DDDDDD"), (11, 511, "> 0.1 okt.", "white"), (6, 526, "Widzialność", ORANGE),
    (6, 543, "Chmury:", "black"), (10, 556, "wysokie", "white"), (10, 569, "średnie", "#999999"), (10, 581, "niskie", "#333333"),
    (10, 593, "bardzo niskie", "black"), (6, 605, "Mgła", "#FFB000"),
]
for x0, y0, s, color in legend_notes:
    text(x0, y0, s, color)
text(6, 622, "Czas uniwersalny (UTC)", "black", 12)
text(5, 648, "<b>* powyżej poziomu morza</b>", "black", 8)

connector([(68, 16), (133, 16), (156, 46)], "black")
connector([(103, 43), (120, 43), (157, 100)], DARKRED)
connector([(92, 76), (113, 76)], RED)
connector([(130, 76), (137, 80), (157, 103)], RED)
connector([(70, 99), (135, 99)], "#0000E0")
connector([(93, 120), (135, 120), (140, 113)], DEW)
connector([(103, 137), (137, 137), (146, 146)], RED)
connector([(106, 151), (112, 151)], RH)
connector([(130, 151), (140, 158)], RH)
connector([(91, 165), (113, 165)], "black")
connector([(130, 165), (139, 172)], "black")
connector([(71, 179), (139, 179)], "#0AA50A")
connector([(80, 190), (146, 190)], "#0AA50A")
connector([(70, 201), (112, 201)], "#1438C8")
connector([(128, 201), (160, 171)], "#1438C8")
connector([(80, 212), (135, 212), (160, 190)], "#1438C8")
connector([(97, 224), (142, 224), (147, 220)], RED)
connector([(52, 264), (133, 264)], "black")
connector([(112, 334), (118, 334)], RED)
connector([(130, 334), (134, 325), (138, 316)], RED)
connector([(108, 348), (128, 348), (145, 340)], RED)
connector([(92, 367), (135, 367)], NAVY)
connector([(86, 409), (135, 410)], NAVY)
connector([(100, 430), (134, 430), (185, 448)], DARKRED)
connector([(57, 468), (120, 468), (190, 456)], "black")
connector([(57, 480), (143, 480)], "#444444")
connector([(57, 490), (130, 490), (145, 500)], "#999999")
connector([(57, 500), (130, 500), (143, 511)], "#D8D8D8")
connector([(57, 510), (135, 510)], "#87CEFF")
connector([(57, 512), (135, 512)], "#87CEFF")
connector([(67, 527), (127, 527), (172, 464)], ORANGE)
connector([(54, 556), (186, 556)], "#87CEFF")
connector([(54, 558), (186, 558)], "#87CEFF")
connector([(50, 572), (193, 572)], "#888888")
connector([(40, 582), (120, 582)], "black")
connector([(133, 582), (136, 582)], "black")
connector([(74, 594), (150, 594)], "black")
connector([(27, 605), (218, 605), (220, 600)], "#FFB000")
connector([(140, 623), (147, 623), (157, 610)], "black")

fig.update_layout(width=W, height=H, margin=dict(l=0, r=0, t=0, b=0, autoexpand=False), autosize=False, showlegend=False, barmode="stack",
                  plot_bgcolor="rgba(0,0,0,0)", paper_bgcolor="white", font=dict(family="Liberation Sans", size=11, color="black"),
                  shapes=shapes, annotations=notes, **axes)
fig.write_html("out.html", config=dict(displayModeBar=False),
               post_script="document.body.style.margin='0';document.documentElement.style.overflow='hidden';")
